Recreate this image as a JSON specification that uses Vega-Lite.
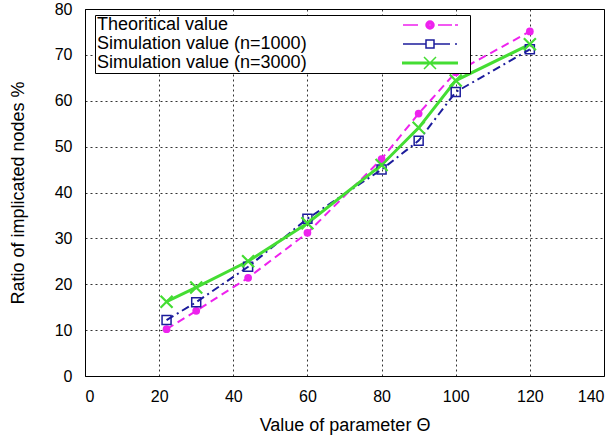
{
  "$schema": "https://vega.github.io/schema/vega-lite/v6.json",
  "width": 613,
  "height": 437,
  "autosize": {"type": "fit", "contains": "padding"},
  "padding": {"left": 9, "top": 1, "right": 8, "bottom": 3},
  "background": "white",
  "config": {
    "view": {"stroke": "black", "strokeWidth": 1},
    "axis": {
      "labelFont": "Liberation Sans",
      "labelFontSize": 16,
      "labelColor": "black",
      "titleFont": "Liberation Sans",
      "titleFontSize": 18,
      "titleFontWeight": "normal",
      "titleColor": "black",
      "domain": false,
      "tickSize": 0,
      "gridColor": "black",
      "gridDash": [2, 3],
      "gridOpacity": 0.8
    },
    "legend": {
      "labelFont": "Liberation Sans",
      "labelFontSize": 18,
      "labelColor": "black",
      "labelLimit": 500,
      "symbolSize": 16,
      "symbolStrokeWidth": 1.5,
      "symbolOffset": 325,
      "labelOffset": -342,
      "rowPadding": 1,
      "padding": 1,
      "strokeColor": "black",
      "fillColor": "white"
    }
  },
  "data": {
    "values": [
      {"theta": 22, "ratio": 10.2, "series": "Theoritical value"},
      {"theta": 30, "ratio": 14.2, "series": "Theoritical value"},
      {"theta": 44, "ratio": 21.4, "series": "Theoritical value"},
      {"theta": 60, "ratio": 31.2, "series": "Theoritical value"},
      {"theta": 80, "ratio": 47.3, "series": "Theoritical value"},
      {"theta": 90, "ratio": 57.2, "series": "Theoritical value"},
      {"theta": 100, "ratio": 66.2, "series": "Theoritical value"},
      {"theta": 120, "ratio": 75.1, "series": "Theoritical value"},
      {"theta": 22, "ratio": 12.2, "series": "Simulation value (n=1000)"},
      {"theta": 30, "ratio": 16.1, "series": "Simulation value (n=1000)"},
      {"theta": 44, "ratio": 23.8, "series": "Simulation value (n=1000)"},
      {"theta": 60, "ratio": 34.3, "series": "Simulation value (n=1000)"},
      {"theta": 80, "ratio": 45.0, "series": "Simulation value (n=1000)"},
      {"theta": 90, "ratio": 51.3, "series": "Simulation value (n=1000)"},
      {"theta": 100, "ratio": 61.9, "series": "Simulation value (n=1000)"},
      {"theta": 120, "ratio": 71.2, "series": "Simulation value (n=1000)"},
      {"theta": 22, "ratio": 16.2, "series": "Simulation value (n=3000)"},
      {"theta": 30, "ratio": 19.3, "series": "Simulation value (n=3000)"},
      {"theta": 44, "ratio": 25.0, "series": "Simulation value (n=3000)"},
      {"theta": 60, "ratio": 33.3, "series": "Simulation value (n=3000)"},
      {"theta": 80, "ratio": 46.0, "series": "Simulation value (n=3000)"},
      {"theta": 90, "ratio": 54.1, "series": "Simulation value (n=3000)"},
      {"theta": 100, "ratio": 64.4, "series": "Simulation value (n=3000)"},
      {"theta": 120, "ratio": 72.3, "series": "Simulation value (n=3000)"}
    ]
  },
  "encoding": {
    "x": {
      "field": "theta", "type": "quantitative",
      "scale": {"domain": [0, 140], "nice": false},
      "axis": {"values": [0, 20, 40, 60, 80, 100, 120, 140], "labelPadding": 12, "title": "Value of parameter Θ", "titlePadding": 12, "grid": true}
    },
    "y": {
      "field": "ratio", "type": "quantitative",
      "scale": {"domain": [0, 80], "nice": false},
      "axis": {"values": [0, 10, 20, 30, 40, 50, 60, 70, 80], "labelPadding": 13, "title": "Ratio of implicated nodes %", "titlePadding": 27, "grid": true}
    }
  },
  "layer": [
    {
      "transform": [{"filter": "datum.series === 'Theoritical value'"}],
      "mark": {"type": "line", "color": "#ee22ee", "strokeWidth": 2, "strokeDash": [8, 5]}
    },
    {
      "transform": [{"filter": "datum.series === 'Simulation value (n=1000)'"}],
      "mark": {"type": "line", "color": "#1c1c9c", "strokeWidth": 2, "strokeDash": [8, 4, 2, 4]}
    },
    {
      "transform": [{"filter": "datum.series === 'Simulation value (n=3000)'"}],
      "mark": {"type": "line", "color": "#44dd33", "strokeWidth": 3}
    },
    {
      "transform": [{"filter": "datum.series === 'Theoritical value'"}],
      "mark": {"type": "point", "shape": "circle", "filled": true, "size": 60, "opacity": 1, "color": "#ee22ee"}
    },
    {
      "transform": [{"filter": "datum.series === 'Simulation value (n=1000)'"}],
      "mark": {"type": "point", "shape": "square", "filled": false, "size": 81, "strokeWidth": 1.5, "opacity": 1, "color": "#1c1c9c"}
    },
    {
      "transform": [{"filter": "datum.series === 'Simulation value (n=3000)'"}],
      "mark": {"type": "point", "shape": "M-1,-1L1,1M-1,1L1,-1", "filled": false, "size": 144, "strokeWidth": 2.2, "opacity": 1, "color": "#44dd33"}
    },
    {
      "transform": [{"filter": "false"}],
      "mark": {"type": "point", "filled": false, "opacity": 1, "strokeWidth": 1.5},
      "encoding": {
        "color": {
          "field": "series", "type": "nominal",
          "scale": {"domain": ["Theoritical value", "Simulation value (n=1000)", "Simulation value (n=3000)"], "range": ["#ee22ee", "#1c1c9c", "#44dd33"]},
          "legend": {"orient": "none", "legendX": 10, "legendY": 6, "title": null}
        },
        "shape": {
          "field": "series", "type": "nominal",
          "scale": {
            "domain": ["Theoritical value", "Simulation value (n=1000)", "Simulation value (n=3000)"],
            "range": [
              "M-13.5,0H-6M4,0H11M12.5,0H14M-2,0A2,2 0 1,0 2,0A2,2 0 1,0 -2,0M-1.3,0A1.3,1.3 0 1,0 1.3,0A1.3,1.3 0 1,0 -1.3,0M-0.6,0A0.6,0.6 0 1,0 0.6,0A0.6,0.6 0 1,0 -0.6,0M18,0",
              "M-13.5,0H-2M2,0H10M12.5,0H13.5M-2,-2H2V2H-2ZM18,0",
              "M-14,-0.35H14M-14,0.35H14M-3,-3L3,3M-3,3L3,-3M18,0"
            ]
          },
          "legend": {"orient": "none", "legendX": 10, "legendY": 6, "title": null}
        }
      }
    }
  ]
}
